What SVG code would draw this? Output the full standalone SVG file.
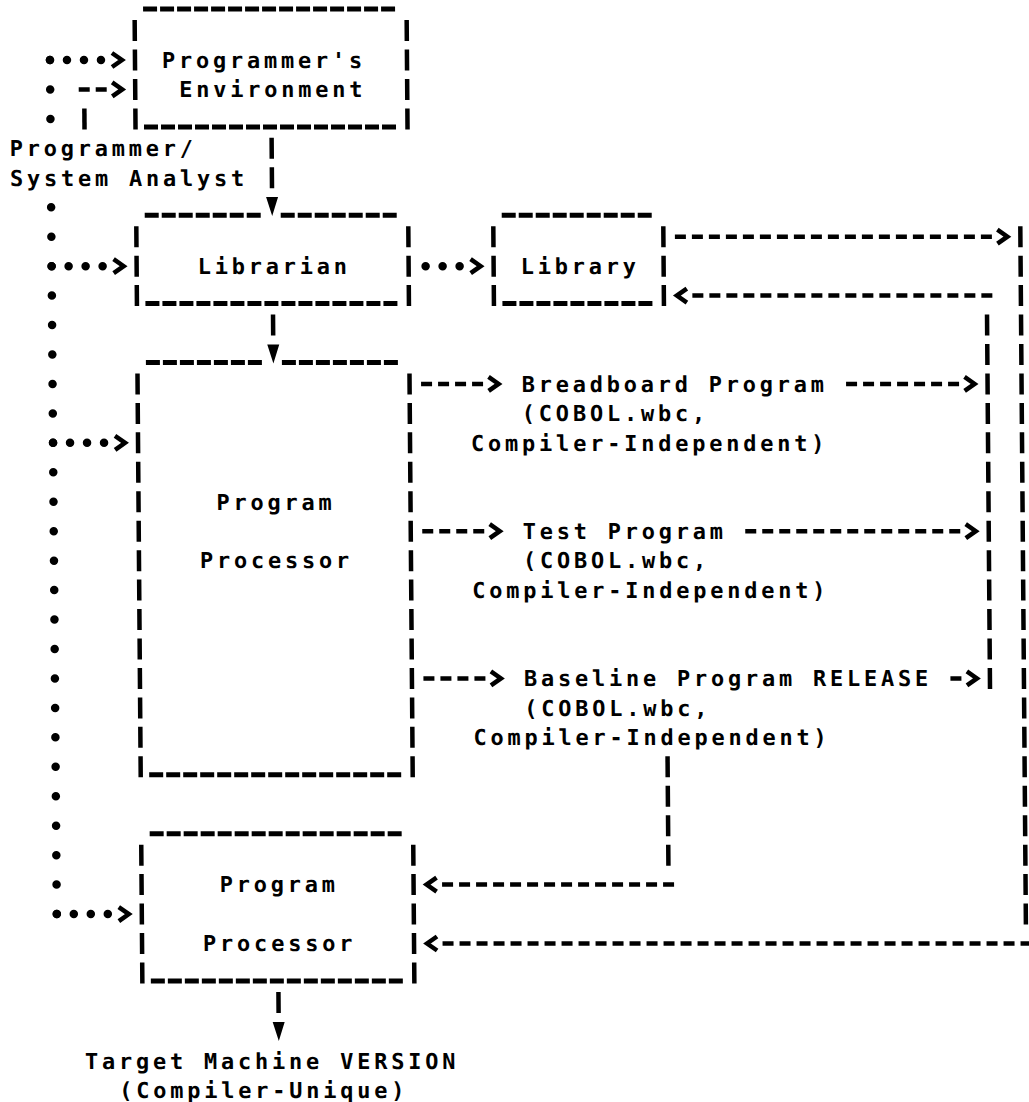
<svg xmlns="http://www.w3.org/2000/svg" width="1029" height="1102" viewBox="0 0 1029 1102">
<style>
.t{font-family:"DejaVu Sans Mono","Liberation Mono",monospace;font-weight:bold;font-size:22px;letter-spacing:3.76px;fill:#000}
.pipe{stroke:#000;stroke-width:4.5;stroke-dasharray:21 8.45;fill:none}
.under{stroke:#000;stroke-width:5;stroke-dasharray:14 3;fill:none}
.dash{stroke:#000;stroke-width:4.5;stroke-dasharray:11 6;fill:none}
.dots{stroke:#000;stroke-width:8.5;stroke-linecap:round;stroke-dasharray:0 17;fill:none}
.vdots{stroke:#000;stroke-width:8.5;stroke-linecap:round;stroke-dasharray:0 29.45;fill:none}
.ah{stroke:#000;stroke-width:4.5;fill:none}
.tri{fill:#000}
</style>
<rect width="1029" height="1102" fill="#fff"/>
<g transform="matrix(1 0 0.008 1 -0.5 0)">
<g id="programmers-environment">
<path class="under" d="M143.5,9.1H398.5M143.5,126.9H398.5"/>
<path class="pipe" d="M135,20.05V129.4M407,20.05V129.4"/>
<text class="t" x="162" y="67.8">Programmer's</text>
<text class="t" x="179" y="97.25">Environment</text>
</g>
<g id="programmer-analyst">
<text class="t" x="9" y="156.15">Programmer/</text>
<text class="t" x="9" y="185.6">System Analyst</text>
</g>
<g id="librarian">
<path class="under" d="M143.5,215.25H262.5M279.5,215.25H398.5M143.5,303.6H398.5"/>
<path class="pipe" d="M135,226.2V306.1M407,226.2V306.1"/>
<text class="t" x="196" y="273.95">Librarian</text>
</g>
<g id="library">
<path class="under" d="M500.5,215.25H653.5M500.5,303.6H653.5"/>
<path class="pipe" d="M492,226.2V306.1M662,226.2V306.1"/>
<text class="t" x="519" y="273.95">Library</text>
</g>
<g id="program-processor-1">
<path class="under" d="M143.5,362.5H262.5M279.5,362.5H398.5M143.5,774.8H398.5"/>
<path class="pipe" d="M135,373.45V777.3M407,373.45V777.3"/>
<text class="t" x="213" y="509.55">Program</text>
<text class="t" x="196" y="568.45">Processor</text>
</g>
<g id="breadboard-program">
<text class="t" x="519" y="391.75">Breadboard Program</text>
<text class="t" x="519" y="421.2">(COBOL.wbc,</text>
<text class="t" x="468" y="450.65">Compiler-Independent)</text>
</g>
<g id="test-program">
<text class="t" x="519" y="539">Test Program</text>
<text class="t" x="519" y="568.45">(COBOL.wbc,</text>
<text class="t" x="468" y="597.9">Compiler-Independent)</text>
</g>
<g id="baseline-program">
<text class="t" x="519" y="686.25">Baseline Program RELEASE</text>
<text class="t" x="519" y="715.7">(COBOL.wbc,</text>
<text class="t" x="468" y="745.15">Compiler-Independent)</text>
</g>
<g id="program-processor-2">
<path class="under" d="M143.5,833.7H398.5M143.5,980.95H398.5"/>
<path class="pipe" d="M135,844.65V983.45M407,844.65V983.45"/>
<text class="t" x="213" y="892.4">Program</text>
<text class="t" x="196" y="951.3">Processor</text>
</g>
<g id="target-version">
<text class="t" x="77" y="1069.1">Target Machine VERSION</text>
<text class="t" x="111" y="1098.5">(Compiler-Unique)</text>
</g>
<g id="connectors">
<path class="vdots" d="M50,60V119.4M50,207.25V914.5"/>
<path class="dots" d="M50,60H101.5M50,266.15H101.5M50,442.85H101.5M50,914.05H101.5M424,266.15H458.5"/>
<path class="ah" d="M112,53L122,60L112,67M112,259.15L122,266.15L112,273.15M112,435.85L122,442.85L112,449.85M112,907.05L122,914.05L112,921.05M469,259.15L479,266.15L469,273.15"/>
<path class="dash" d="M78.5,89.45H106.5"/>
<path class="ah" d="M112,82.45L122,89.45L112,96.45"/>
<path class="pipe" d="M84,108.4V129.4"/>
<path class="pipe" d="M271,137.85V188.3M271,314.55V335.55M271,991.9V1012.9"/>
<path class="tri" d="M265,197L277,197L271,216ZM265,344.5L277,344.5L271,363.5ZM265,1022L277,1022L271,1041Z"/>
<path class="dash" d="M418.5,383.95H480.5M418.5,531.2H480.5M418.5,678.45H480.5"/>
<path class="ah" d="M486,376.95L496,383.95L486,390.95M486,524.2L496,531.2L486,538.2M486,671.45L496,678.45L486,685.45"/>
<path class="dash" d="M843.5,383.95H956.5M741.5,531.2H956.5M945.5,678.45H956.5"/>
<path class="ah" d="M962,376.95L972,383.95L962,390.95M962,524.2L972,531.2L962,538.2M962,671.45L972,678.45L962,685.45"/>
<path class="pipe" d="M985,314.55V688.95"/>
<path class="dash" d="M690.5,295.6H990.5"/>
<path class="ah" d="M685,288.6L675,295.6L685,302.6"/>
<path class="dash" d="M673.5,236.7H990.5"/>
<path class="ah" d="M996,229.7L1006,236.7L996,243.7"/>
<path class="pipe" d="M1019,226.2V924.55"/>
<path class="dash" d="M435.5,943.5H1024.5"/>
<path class="ah" d="M430,936.5L420,943.5L430,950.5"/>
<path class="pipe" d="M662,756.3V865.65"/>
<path class="dash" d="M435.5,884.6H667.5"/>
<path class="ah" d="M430,877.6L420,884.6L430,891.6"/>
</g>
</g>
</svg>
